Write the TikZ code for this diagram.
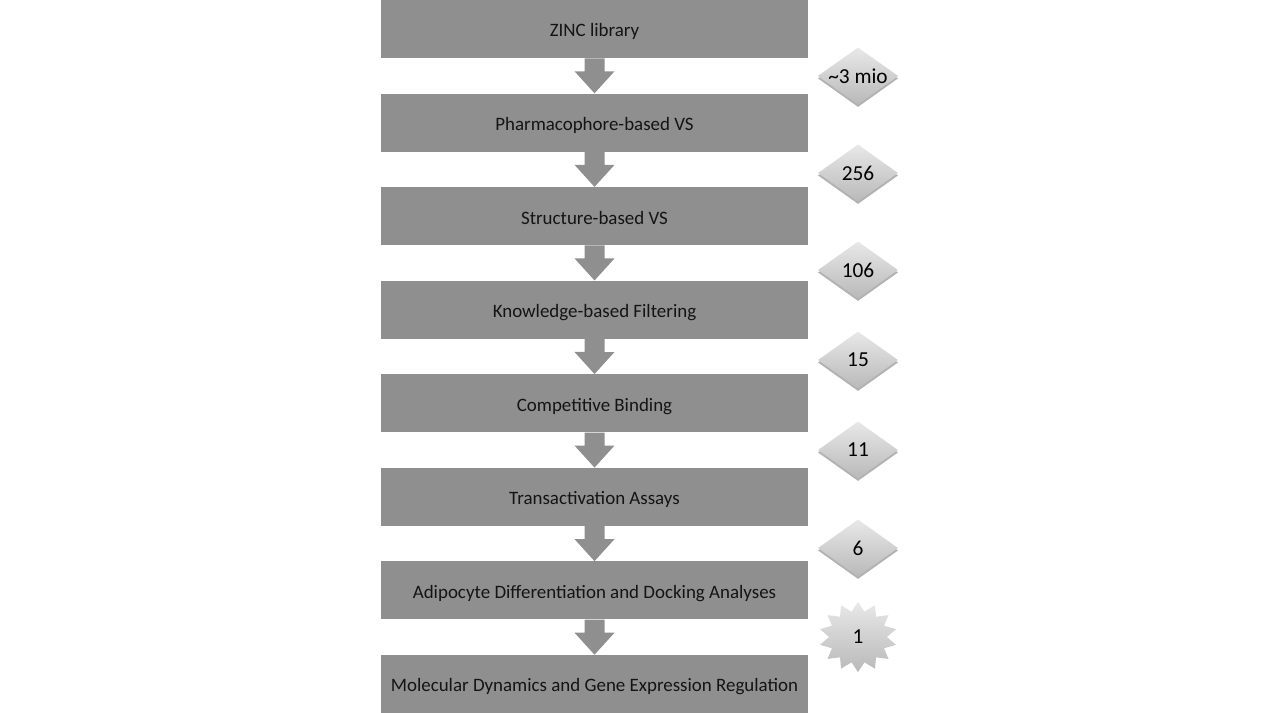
\documentclass[tikz,border=0pt]{standalone}
\usepackage{fontspec}
\setmainfont{Carlito}
\usetikzlibrary{shapes.geometric,shapes.arrows}
\definecolor{boxgray}{RGB}{143,143,143}
\definecolor{txt}{RGB}{20,20,20}
\begin{document}
\begin{tikzpicture}[x=0.75pt,y=-0.75pt,
  stepbox/.style={fill=boxgray,draw=none,minimum width=427*0.75pt,minimum height=58*0.75pt,inner sep=0pt},
  steptext/.style={inner sep=0pt,font=\fontsize{14.2}{17}\selectfont,text=txt},
  arrowfill/.style={fill=boxgray,draw=none},
  countbox/.style={diamond,aspect=1.42,minimum width=80*0.75pt,minimum height=57*0.75pt,inner sep=0pt,top color=gray!18,bottom color=gray!55,draw=none,font=\fontsize{16}{18}\selectfont,text=black},
  countshadow/.style={diamond,aspect=1.42,minimum width=80*0.75pt,minimum height=57*0.75pt,inner sep=0pt,fill=gray!60,draw=none},
  starbox/.style={star,star points=14,star point ratio=1.35,minimum width=78*0.75pt,minimum height=56*0.75pt,inner sep=0pt,top color=gray!18,bottom color=gray!55,draw=none}
]
\useasboundingbox (0,0) rectangle (1280,713);
\fill[white] (0,0) rectangle (1280,713);
\foreach \i/\t in {1/ZINC library,2/Pharmacophore-based VS,3/Structure-based VS,4/Knowledge-based Filtering,5/Competitive Binding,6/Transactivation Assays,7/Adipocyte Differentiation and Docking Analyses,8/Molecular Dynamics and Gene Expression Regulation}{
  \node[stepbox] (b\i) at (594.5,{29+(\i-1)*93.57}) {};
  \node[steptext] (t\i) at ([yshift=-2.5pt]b\i.center) {\strut\t};
}
\foreach \i [evaluate=\i as \j using int(\i+1)] in {1,...,7}{
  \fill[arrowfill] (b\i.south) ++(-10,0) -- ++(0,13) -- ++(-10,0) -- (b\j.north) -- ++(20,-22) -- ++(-10,0) -- ++(0,-13) -- cycle;
}
\foreach \n/\y/\t in {1/76/{\textasciitilde3 mio},2/173/256,3/270/106,4/360/15,5/450/11,6/548/6}{
  \node[countshadow] (s\n) at (858,\y+2.5) {};
  \node[countbox] (c\n) at (858,\y) {\t};
}
\node[starbox,yscale=0.9] (c7) at (858,637) {};
\node (c7t) at (858,637) {\fontsize{16}{18}\selectfont 1};
\end{tikzpicture}
\end{document}
